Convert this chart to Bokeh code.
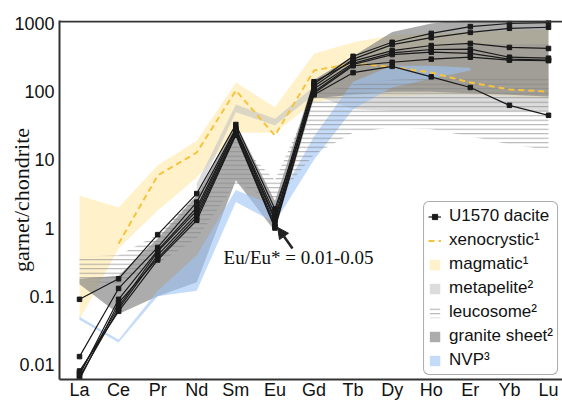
from math import pi
from bokeh.plotting import figure
from bokeh.models import (Range1d, FixedTicker, CustomJSTickFormatter, Span,
                          Label, Arrow, NormalHead, Legend, LegendItem)
from bokeh.embed import file_html
from bokeh.resources import INLINE

# ---------------- data ----------------
REE = ["La", "Ce", "Pr", "Nd", "Sm", "Eu", "Gd", "Tb", "Dy", "Ho", "Er", "Yb", "Lu"]

# U1570 dacite garnets (chondrite normalised)
dacite_1 = [0.0075, 0.07, 0.45, 1.8, 27, 1.3, 130, 330, 530, 715, 900, 1000, 1030]
dacite_2 = [0.0065, 0.065, 0.40, 1.6, 25, 1.15, 120, 300, 490, 620, 740, 850, 880]
dacite_3 = [0.013, 0.13, 0.52, 2.4, 29, 1.6, 140, 280, 400, 475, 510, 445, 430]
dacite_4 = [0.007, 0.09, 0.47, 2.0, 28, 1.4, 110, 260, 370, 415, 420, 320, 310]
dacite_5 = [0.006, 0.08, 0.36, 1.45, 24, 1.05, 100, 250, 350, 380, 365, 300, 290]
dacite_6 = [0.008, 0.06, 0.34, 1.3, 23, 1.0, 95, 240, 270, 300, 320, 290, 285]
dacite_7 = [0.09, 0.18, 0.80, 3.2, 33, 1.9, 90, 190, 235, 165, 115, 63, 45]

# xenocrystic (dashed)
xeno_ree = ["Ce", "Pr", "Nd", "Sm", "Eu", "Gd", "Tb", "Dy", "Ho", "Er", "Yb", "Lu"]
xeno_vals = [0.59, 5.9, 12.8, 104, 22.8, 205, 259, 230, 191, 136, 108, 100]

# magmatic field
magmatic_low = [0.045, 0.5, 1.8, 5.5, 25, 25, 70, 85, 85, 90, 90, 85, 80]
magmatic_high = [3.0, 2.0, 8.3, 19, 136, 59, 360, 530, 670, 710, 750, 780, 800]

# metapelite field
metapelite_ree = ["Nd", "Sm", "Eu", "Gd", "Tb", "Dy", "Ho", "Er", "Yb", "Lu"]
metapelite_low = [3.0, 50, 32, 90, 55, 52, 52, 52, 52, 52]
metapelite_high = [4.5, 65, 40, 120, 250, 400, 450, 500, 500, 500]

# leucosome field (hatched)
leucosome_low = [0.17, 0.15, 0.3, 0.7, 4.5, 2.5, 12, 25, 30, 28, 22, 17, 14]
leucosome_high = [0.38, 0.40, 0.8, 3.0, 20, 5, 95, 130, 150, 155, 155, 155, 155]

# granite sheet field
granite_low = [0.15, 0.055, 0.10, 0.16, 5, 0.9, 80, 90, 100, 100, 95, 90, 85]
granite_high = [0.18, 0.20, 0.70, 3.0, 34, 2.5, 150, 330, 750, 1000, 1150, 1150, 1150]

# NVP field
nvp_ree = ["La", "Ce", "Pr", "Nd", "Sm", "Eu", "Gd", "Tb", "Dy", "Ho", "Er"]
nvp_low = [0.045, 0.021, 0.10, 0.12, 2.4, 1.2, 10, 55, 115, 155, 205]
nvp_high = [0.050, 0.023, 0.12, 0.40, 3.6, 2.1, 22, 140, 240, 240, 225]

y_ticks = [0.01, 0.1, 1, 10, 100, 1000]


def xs(names):
    return [REE.index(n) for n in names]


X_ALL = xs(REE)

# ---------------- figure ----------------
p = figure(width=562, height=402, y_axis_type="log",
           x_range=Range1d(-0.512, 12.358), y_range=Range1d(0.006, 1106),
           output_backend="svg", toolbar_location=None,
           min_border_left=59, min_border_right=0, min_border_top=20,
           min_border_bottom=23)
p.outline_line_color = None
p.grid.visible = False

xa = p.xaxis[0]
xa.ticker = FixedTicker(ticks=X_ALL)
xa.major_label_overrides = {i: c for i, c in enumerate(REE)}
ya = p.yaxis[0]
ya.ticker = FixedTicker(ticks=y_ticks)
ya.formatter = CustomJSTickFormatter(code="return String(tick)")
for ax in (xa, ya):
    ax.axis_line_width = 2
    ax.axis_line_color = "#333333"
    ax.major_tick_out = 0
    ax.major_tick_in = 0
    ax.minor_tick_out = 0
    ax.minor_tick_in = 0
    ax.major_label_text_font = "Liberation Sans"
    ax.major_label_text_font_size = "18px"
    ax.major_label_text_color = "#111111"
xa.major_label_standoff = 0
ya.major_label_standoff = 5
ya.axis_label = "garnet/chondrite"
ya.axis_label_text_font = "Liberation Serif"
ya.axis_label_text_font_size = "22px"
ya.axis_label_text_font_style = "normal"
ya.axis_label_text_color = "#111111"
ya.axis_label_standoff = -23

p.add_layout(Span(location=1070, dimension="width", line_width=2,
                  line_color="#333333"))

# ---------------- fields ----------------
r_mag = p.varea(x=X_ALL, y1=magmatic_low, y2=magmatic_high,
                fill_color="#FFE9A8", fill_alpha=0.6)
r_met = p.varea(x=xs(metapelite_ree), y1=metapelite_low, y2=metapelite_high,
                fill_color="#BFBFBF", fill_alpha=0.55)
r_gra = p.varea(x=X_ALL, y1=granite_low, y2=granite_high,
                fill_color="#808080", fill_alpha=0.65)
r_nvp = p.varea(x=xs(nvp_ree), y1=nvp_low, y2=nvp_high,
                fill_color="#9DC3F5", fill_alpha=0.6)
r_leu = p.varea(x=X_ALL, y1=leucosome_low, y2=leucosome_high,
                fill_alpha=0, hatch_pattern="horizontal_line",
                hatch_color="#858585", hatch_scale=4.5, hatch_weight=1,
                hatch_alpha=0.7)

r_xeno = p.line(xs(xeno_ree), xeno_vals, line_color="#F7C33C", line_width=2,
                line_dash="6 4")

dac_renderers = []
for vals in (dacite_1, dacite_2, dacite_3, dacite_4, dacite_5, dacite_6, dacite_7):
    l = p.line(X_ALL, vals, line_color="#1a1a1a", line_width=1.2)
    s = p.scatter(X_ALL, vals, marker="square", size=4.5,
                  fill_color="#1a1a1a", line_color="#1a1a1a")
    dac_renderers.append((l, s))

# ---------------- annotations ----------------
p.add_layout(Label(x=3.685, y=0.37, text="Eu/Eu* = 0.01-0.05",
                   text_align="left", text_baseline="middle",
                   text_font="Liberation Serif", text_font_size="19px",
                   text_color="#111111"))
p.add_layout(Arrow(x_start=5.45, y_start=0.50, x_end=5.07, y_end=1.02,
                   line_width=2.5, line_color="#222222",
                   end=NormalHead(size=11, fill_color="#222222",
                                  line_color="#222222")))

# ---------------- legend ----------------
legend = Legend(items=[
    LegendItem(label="U1570 dacite", renderers=list(dac_renderers[0])),
    LegendItem(label="xenocrystic\u00b9", renderers=[r_xeno]),
    LegendItem(label="magmatic\u00b9", renderers=[r_mag]),
    LegendItem(label="metapelite\u00b2", renderers=[r_met]),
    LegendItem(label="leucosome\u00b2", renderers=[r_leu]),
    LegendItem(label="granite sheet\u00b2", renderers=[r_gra]),
    LegendItem(label="NVP\u00b3", renderers=[r_nvp]),
], location="bottom_right")
legend.label_text_font = "Liberation Sans"
legend.label_text_font_size = "17px"
legend.label_text_color = "#111111"
legend.glyph_width = 13
legend.glyph_height = 13
legend.label_standoff = 8
legend.label_height = 20
legend.spacing = 4
legend.padding = 4
legend.margin = 4
legend.border_line_color = "#555555"
legend.border_line_width = 1
legend.background_fill_alpha = 1
if "border_radius" in legend.properties():
    legend.border_radius = 6
p.add_layout(legend)

open("out.html", "w").write(file_html(p, INLINE))
